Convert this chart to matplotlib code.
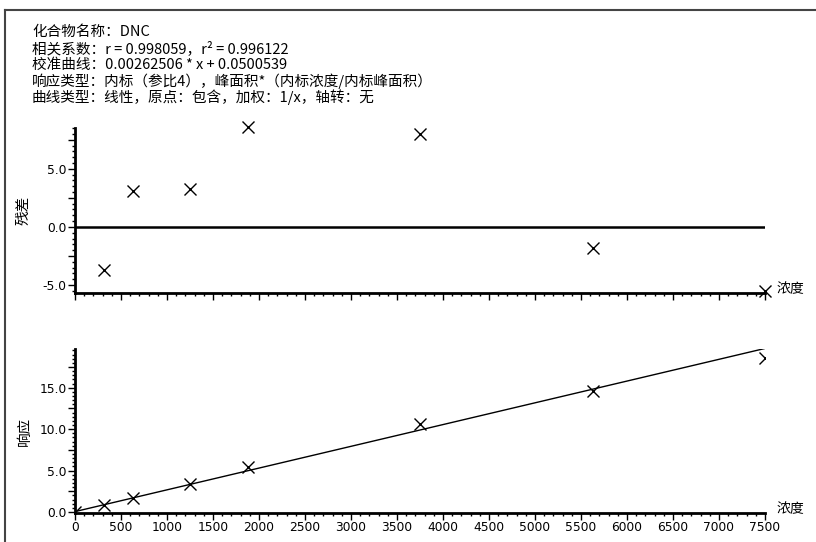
import numpy as np
import matplotlib
matplotlib.use("Agg")
import matplotlib.pyplot as plt
from matplotlib.lines import Line2D
from matplotlib.ticker import MultipleLocator, FuncFormatter

plt.rcParams['font.family'] = ['Noto Sans CJK SC', 'DejaVu Sans']

# calibration data
conc = [312.5, 625, 1250, 1875, 3750, 5625, 7500]
residual = [-3.7, 3.05, 3.25, 8.57, 7.97, -1.86, -5.48]
resp_conc = [0, 312.5, 625, 1250, 1875, 3750, 5625, 7500]
response = [0.0, 0.85, 1.74, 3.39, 5.41, 10.64, 14.56, 18.59]
slope = 0.00262506
intercept = 0.0500539

header = [
    "化合物名称：DNC",
    "相关系数：r = 0.998059，r² = 0.996122",
    "校准曲线：0.00262506 * x + 0.0500539",
    "响应类型：内标（参比4），峰面积*（内标浓度/内标峰面积）",
    "曲线类型：线性，原点：包含，加权：1/x，轴转：无",
]

W, H = 816, 542
fig = plt.figure(figsize=(W / 100, H / 100), dpi=100)


def px_axes(left, top, right, bottom):
    return fig.add_axes([left / W, 1 - bottom / H, (right - left) / W, (bottom - top) / H])


def style(ax):
    for s in ("top", "right"):
        ax.spines[s].set_visible(False)
    for s in ("left", "bottom"):
        ax.spines[s].set_linewidth(2)
    ax.xaxis.set_major_locator(MultipleLocator(500))
    ax.xaxis.set_minor_locator(MultipleLocator(100))
    ax.yaxis.set_major_locator(MultipleLocator(2.5))
    ax.yaxis.set_minor_locator(MultipleLocator(0.5))
    ax.yaxis.set_major_formatter(FuncFormatter(
        lambda v, p: f"{v:.1f}" if abs(v / 5 - round(v / 5)) < 1e-6 else ""))
    ax.tick_params(which="major", length=5, width=1, labelsize=8.8, pad=1)
    ax.tick_params(which="minor", length=2.5, width=1)
    for lab in ax.get_xticklabels() + ax.get_yticklabels():
        lab.set_family("DejaVu Sans")


# residual plot
ax1 = px_axes(75, 128, 765, 293)
ax1.axhline(0, color="black", lw=1.8)
ax1.plot(conc, residual, "x", color="black", ms=8, mew=1, clip_on=False)
ax1.set_xlim(0, 7500)
ax1.set_ylim(-5.69, 8.51)
style(ax1)
ax1.tick_params(axis="x", labelbottom=False)
ax1.set_ylabel("残差", fontsize=10.5)
ax1.yaxis.set_label_coords(-44 / 690, 0.5)
fig.text(777 / W, 1 - 289 / H, "浓度", fontsize=10, va="center", ha="left")

# response plot
ax2 = px_axes(75, 349, 765, 513)
xs = np.array([0, 7500])
ax2.plot(xs, slope * xs + intercept, color="black", lw=1)
ax2.plot(resp_conc, response, "x", color="black", ms=8, mew=1)
ax2.set_xlim(0, 7500)
ax2.set_ylim(-0.12, 19.67)
style(ax2)
ax2.set_ylabel("响应", fontsize=10.5)
ax2.yaxis.set_label_coords(-43 / 690, 0.5)
fig.text(777 / W, 1 - 509 / H, "浓度", fontsize=10, va="center", ha="left")

# header text
for i, line in enumerate(header):
    fig.text(32 / W, 1 - (32 + i * 16.25) / H, line, fontsize=10.5, va="center", ha="left")

# outer frame (top and left edge)
fig.add_artist(Line2D([5 / W, 1], [1 - 9.5 / H, 1 - 9.5 / H], color="#444444", lw=1.5))
fig.add_artist(Line2D([5 / W, 5 / W], [0, 1 - 9.5 / H], color="#444444", lw=1.5))

fig.savefig("out.png", dpi=100)
